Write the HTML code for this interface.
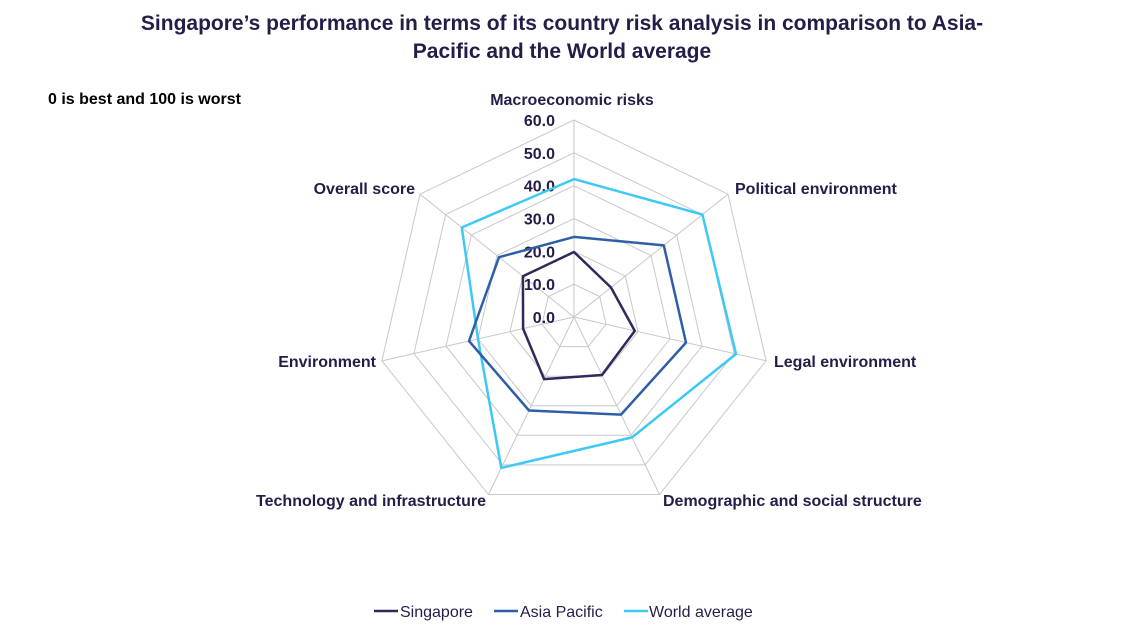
<!DOCTYPE html>
<html><head><meta charset="utf-8"><style>
html,body{margin:0;padding:0;background:#fff;width:1125px;height:633px;overflow:hidden}
svg{display:block}
text{font-family:"Liberation Sans",sans-serif;fill:#251c48}
</style></head><body>
<svg width="1125" height="633" viewBox="0 0 1125 633" xmlns="http://www.w3.org/2000/svg">
<text x="562" y="30" font-size="21" font-weight="bold" text-anchor="middle">Singapore’s performance in terms of its country risk analysis in comparison to Asia-</text>
<text x="562" y="58" font-size="21" font-weight="bold" text-anchor="middle">Pacific and the World average</text>
<text x="48" y="104" font-size="16" font-weight="bold" fill="#000" style="fill:#000">0 is best and 100 is worst</text>
<g id="grid" fill="none" stroke="#c8c8c8" stroke-width="1"></g>
<g id="ticks" font-size="16" font-weight="bold" text-anchor="end"></g>
<g id="series" fill="none" stroke-width="2.5" stroke-linejoin="round"></g>
<g font-size="16" font-weight="bold">
<text x="572" y="105" text-anchor="middle">Macroeconomic risks</text>
<text x="735" y="194">Political environment</text>
<text x="774" y="367">Legal environment</text>
<text x="663" y="506">Demographic and social structure</text>
<text x="486" y="506" text-anchor="end">Technology and infrastructure</text>
<text x="376" y="367" text-anchor="end">Environment</text>
<text x="415" y="194" text-anchor="end">Overall score</text>
</g>
<g font-size="16">
<line x1="374" y1="611" x2="398" y2="611" stroke="#2e2a5c" stroke-width="2.5"/>
<text x="400" y="617">Singapore</text>
<line x1="494" y1="611" x2="518" y2="611" stroke="#2f5ea8" stroke-width="2.5"/>
<text x="520" y="617">Asia Pacific</text>
<line x1="624" y1="611" x2="648" y2="611" stroke="#3ec8f5" stroke-width="2.5"/>
<text x="649" y="617">World average</text>
</g>
</svg>
<script>
var cx=574,cy=317,R=197,NS="http://www.w3.org/2000/svg";
function pt(k,v){var a=(-90+k*360/7)*Math.PI/180,r=v/60*R;return [cx+r*Math.cos(a),cy+r*Math.sin(a)];}
function poly(vals){return vals.map(function(v,k){var p=pt(k,v);return p[0].toFixed(1)+","+p[1].toFixed(1)}).join(" ");}
var g=document.getElementById("grid");
for(var l=10;l<=60;l+=10){var e=document.createElementNS(NS,"polygon");e.setAttribute("points",poly([l,l,l,l,l,l,l]));g.appendChild(e);}
for(var k=0;k<7;k++){var p=pt(k,60),e=document.createElementNS(NS,"line");e.setAttribute("x1",cx);e.setAttribute("y1",cy);e.setAttribute("x2",p[0]);e.setAttribute("y2",p[1]);g.appendChild(e);}
var t=document.getElementById("ticks");
for(var l=0;l<=60;l+=10){var e=document.createElementNS(NS,"text");e.setAttribute("x",555);e.setAttribute("y",cy-l/60*R+6);e.textContent=l.toFixed(1);t.appendChild(e);}
var s=document.getElementById("series");
[[[42,50,50.6,40.7,51,30,43.7],"#3ec8f5"],[[24.4,35,35,33,31.6,32.8,29.2],"#2f5ea8"],[[19.8,14.4,19,19.6,21,15.9,19.9],"#2e2a5c"]].forEach(function(d){var e=document.createElementNS(NS,"polygon");e.setAttribute("points",poly(d[0]));e.setAttribute("stroke",d[1]);s.appendChild(e);});
</script>
</body></html>
